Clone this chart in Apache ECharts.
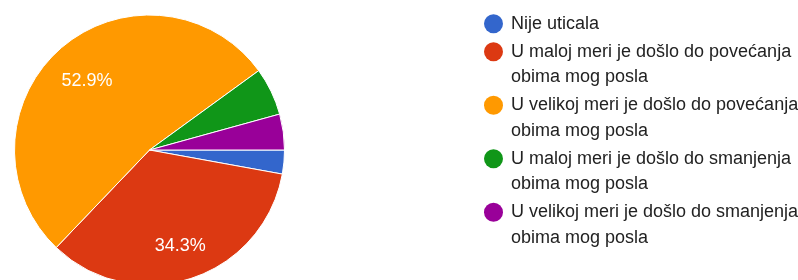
<!DOCTYPE html>
<html>
<head>
<meta charset="utf-8">
<script src="https://cdn.jsdelivr.net/npm/echarts@6/dist/echarts.min.js"></script>
<style>
  html, body { margin: 0; padding: 0; background: #fff; }
  #pie-chart { width: 798px; height: 280px; }
</style>
</head>
<body>
<div id="pie-chart"></div>
<script>
// odgovori (n = 70)
const categories = [
    'Nije uticala',
    'U maloj meri je došlo do povećanja obima mog posla',
    'U velikoj meri je došlo do povećanja obima mog posla',
    'U maloj meri je došlo do smanjenja obima mog posla',
    'U velikoj meri je došlo do smanjenja obima mog posla'
];
const counts = [2, 24, 37, 4, 3];
const colors = ['#3366cc', '#dc3912', '#ff9900', '#109618', '#990099'];
const colorKeys = ['c0', 'c1', 'c2', 'c3', 'c4'];

const FONT = '"Liberation Sans", Arial, sans-serif';
const total = counts.reduce(function (a, b) { return a + b; }, 0);

const pieChart = echarts.init(document.getElementById('pie-chart'));

const pieData = categories.map(function (name, i) {
    return { name: name, value: counts[i], itemStyle: { color: colors[i] } };
});

// rich stilovi za tacke u legendi
const rich = {
    t: { fontSize: 18, lineHeight: 25.5, color: '#222222', fontFamily: FONT },
    g: { width: 8, height: 19 },
    ind: { width: 27, height: 19 }
};
colorKeys.forEach(function (k, i) {
    rich[k] = {
        width: 19, height: 19, fontSize: 18, lineHeight: 25.5,
        borderRadius: 9.5, backgroundColor: colors[i]
    };
});

const option = {
    animation: false,
    color: colors,
    legend: {
        orient: 'vertical',
        left: 477,
        top: 11,
        padding: 0,
        itemGap: 2.5,
        itemWidth: 1,
        itemHeight: 13,
        itemStyle: { opacity: 0 },
        selectedMode: false,
        data: categories,
        textStyle: { fontSize: 18, lineHeight: 25.5, fontFamily: FONT, color: '#222222', rich: rich },
        formatter: function (name) {
            const i = categories.indexOf(name);
            const cut = name.indexOf(' obima');
            if (cut < 0) {
                return '{' + colorKeys[i] + '|}{g|}{t|' + name + '}';
            }
            return '{' + colorKeys[i] + '|}{g|}{t|' + name.slice(0, cut) + '}\n{ind|}{t|' + name.slice(cut + 1) + '}';
        }
    },
    series: [
        {
            type: 'pie',
            center: [149.5, 150],
            radius: 135,
            startAngle: 0,
            clockwise: true,
            silent: true,
            label: { show: false },
            labelLine: { show: false },
            itemStyle: { borderColor: '#ffffff', borderWidth: 1 },
            data: pieData
        },
        {
            // samo za procente unutar isecaka
            type: 'pie',
            center: [149.5, 150],
            radius: [52, 135],
            startAngle: 0,
            clockwise: true,
            silent: true,
            itemStyle: { color: 'transparent', borderWidth: 0 },
            labelLine: { show: false },
            labelLayout: { dx: 1, dy: 4 },
            label: {
                show: true,
                position: 'inside',
                color: '#ffffff',
                fontSize: 18,
                fontFamily: FONT,
                formatter: function (p) {
                    const pct = p.value / total * 100;
                    return pct < 10 ? '' : pct.toFixed(1) + '%';
                }
            },
            data: categories.map(function (name, i) {
                return { name: name, value: counts[i] };
            })
        }
    ]
};

pieChart.setOption(option);
</script>
</body>
</html>
